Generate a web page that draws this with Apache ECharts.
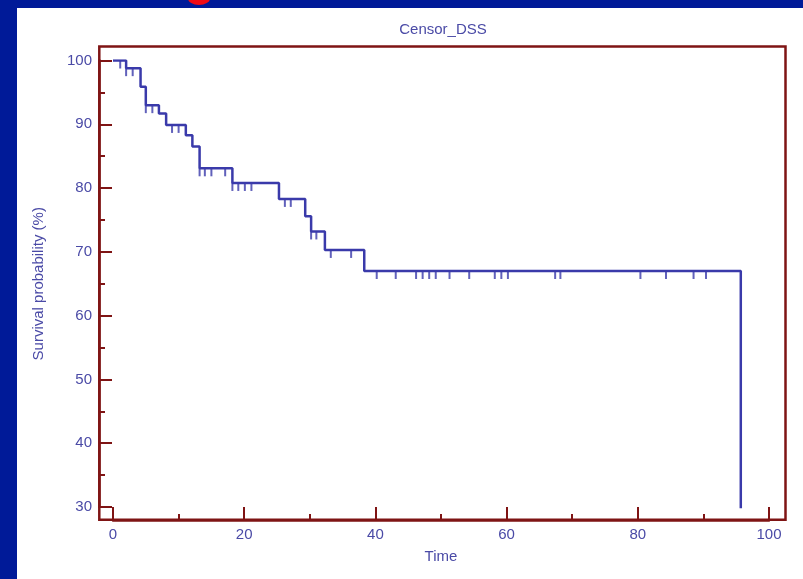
<!DOCTYPE html>
<html>
<head>
<meta charset="utf-8">
<script src="https://cdn.jsdelivr.net/npm/echarts@6/dist/echarts.min.js"></script>
<style>
html,body{margin:0;padding:0;background:#001a98;overflow:hidden;}
#paper{position:absolute;left:17px;top:8px;width:786px;height:571px;background:#fff;}
#blob{position:absolute;left:188px;top:-8px;width:22px;height:13px;border-radius:50%;background:#f00a14;}
#chart{position:absolute;left:0;top:0;width:803px;height:579px;}
</style>
</head>
<body>
<div id="blob"></div>
<div id="paper"></div>
<div id="chart"></div>
<script>
// Kaplan-Meier steps: time of event, survival (%) just after it
var eventTimes = [0, 2.0, 4.2, 5.0, 7.0, 8.1, 11.1, 12.1, 13.2, 18.2, 25.3, 29.3, 30.2, 32.3, 38.3, 95.7];
var survival   = [100, 98.8, 95.9, 93.0, 91.7, 89.9, 88.3, 86.5, 83.1, 80.8, 78.3, 75.6, 73.2, 70.3, 67.0, 0];
// censored observations
var censorTimes = [1.1, 2.0, 3.0, 5.0, 6.0, 9.0, 10.0, 13.2, 14.0, 15.0, 17.1, 18.2, 19.1, 20.1, 21.1,
	26.2, 27.1, 30.2, 31.0, 33.2, 36.3, 40.2, 43.1, 46.2, 47.2, 48.2, 49.2, 51.3, 54.3,
	58.2, 59.2, 60.2, 67.4, 68.2, 80.4, 84.3, 88.5, 90.4];
var xRange = [0, 100];
var yRange = [30, 100];

var frameColor = '#7f1414';
var textColor = '#4a4aa6';
var lineColor = '#3a3aaa';
var font = "'Liberation Sans', Arial, sans-serif";

function survAt(t){
	var s = survival[0];
	for(var i = 0;i<eventTimes.length;i++){
		if(eventTimes[i] <= t) s = survival[i];
	}
	return s;
}

var stepData = [];
for(var i = 0;i<eventTimes.length;i++){
	stepData.push([eventTimes[i], survival[i]]);
}
var censorData = [];
for(var j = 0;j<censorTimes.length;j++){
	censorData.push([censorTimes[j], survAt(censorTimes[j])]);
}

var tickStyle = { color: frameColor, width: 2 };
var labelStyle = { color: textColor, fontSize: 15, fontFamily: font };

var ele = echarts.init(document.getElementById('chart'));
var option = {
	animation: false,
	title: {
		text: 'Censor_DSS',
		left: 443,
		top: 22,
		padding: 0,
		textAlign: 'center',
		textStyle: { color: textColor, fontSize: 15, fontWeight: 'normal', fontFamily: font }
	},
	grid: [
		{ left: 113, right: 34, top: 60.5, bottom: 72, outerBoundsMode: 'none' },
		{ left: 99.3, right: 17.5, top: 46.5, bottom: 59.3, outerBoundsMode: 'none',
		  show: true, borderColor: frameColor, borderWidth: 2.5, backgroundColor: 'transparent' }
	],
	xAxis: [
		{
			gridIndex: 0,
			type: 'value',
			min: xRange[0],
			max: xRange[1],
			interval: 20,
			offset: 13,
			axisLine: { show: true, onZero: false, lineStyle: { color: frameColor, width: 2.5 } },
			axisTick: { show: true, inside: true, length: 13, lineStyle: tickStyle },
			minorTick: { show: true, splitNumber: 2, length: 6, lineStyle: tickStyle },
			splitLine: { show: false },
			axisLabel: { margin: 7, color: textColor, fontSize: 15, fontFamily: font },
			name: 'Time',
			nameLocation: 'middle',
			nameGap: 29,
			nameTextStyle: labelStyle
		},
		{ gridIndex: 1, type: 'value', show: false, min: 0, max: 1 }
	],
	yAxis: [
		{
			gridIndex: 0,
			type: 'value',
			min: yRange[0],
			max: yRange[1],
			interval: 10,
			offset: 14,
			axisLine: { show: true, onZero: false, lineStyle: { color: frameColor, width: 2.5 } },
			axisTick: { show: true, inside: true, length: 13, lineStyle: tickStyle },
			minorTick: { show: true, splitNumber: 2, length: 6, lineStyle: tickStyle },
			splitLine: { show: false },
			axisLabel: { margin: 7, color: textColor, fontSize: 15, fontFamily: font },
			name: 'Survival probability (%)',
			nameLocation: 'middle',
			nameGap: 53,
			nameTextStyle: labelStyle
		},
		{ gridIndex: 1, type: 'value', show: false, min: 0, max: 1 }
	],
	series: [
		{
			type: 'line',
			xAxisIndex: 0,
			yAxisIndex: 0,
			data: stepData,
			step: 'end',
			symbol: 'none',
			clip: true,
			lineStyle: { color: lineColor, width: 2.5 }
		},
		{
			type: 'scatter',
			xAxisIndex: 0,
			yAxisIndex: 0,
			data: censorData,
			symbol: 'rect',
			symbolSize: [2, 8],
			symbolOffset: [0, 4],
			itemStyle: { color: lineColor }
		}
	]
};
ele.setOption(option);
</script>
</body>
</html>
